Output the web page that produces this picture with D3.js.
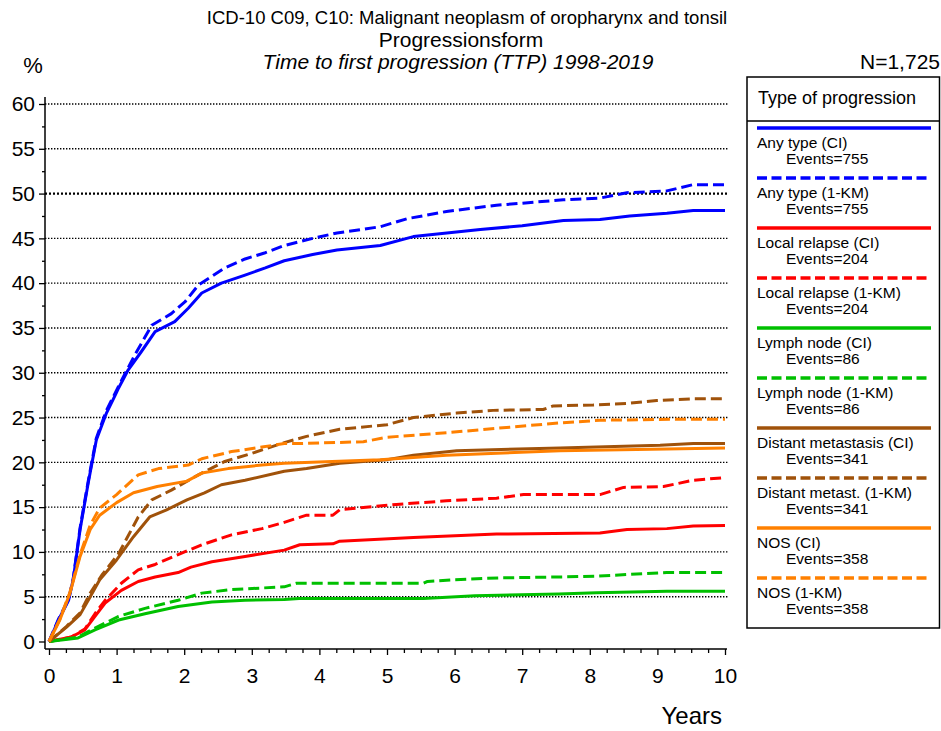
<!DOCTYPE html>
<html>
<head>
<meta charset="utf-8">
<script src="https://cdn.jsdelivr.net/npm/d3@7"></script>
<style>
  body { margin: 0; background: #fff; }
  svg { display: block; font-family: "Liberation Sans", Arial, sans-serif; }
</style>
</head>
<body>
<div id="chart"></div>
<script>
// Curves: [years, percent]
const anyCI = [[0,0],[0.14,2.4],[0.29,4.6],[0.36,7.0],[0.46,12.5],[0.58,17.7],[0.7,22.5],[0.85,25.5],[0.98,27.5],[1.03,28.3],[1.17,30.3],[1.37,32.4],[1.57,34.6],[1.86,35.7],[2.06,37.2],[2.26,38.9],[2.55,40.0],[2.9,40.9],[3.2,41.7],[3.48,42.5],[3.9,43.2],[4.26,43.7],[4.9,44.2],[5.39,45.2],[6.38,46.0],[7.0,46.4],[7.61,47.0],[8.15,47.1],[8.59,47.5],[9.14,47.8],[9.53,48.1],[10,48.1]];
const anyKM = [[0,0],[0.14,2.5],[0.29,4.7],[0.36,7.1],[0.46,12.7],[0.58,17.9],[0.7,22.7],[0.85,25.8],[1.05,28.8],[1.27,32.0],[1.52,35.3],[1.81,36.6],[2.01,37.9],[2.21,39.8],[2.6,41.7],[2.9,42.7],[3.2,43.4],[3.48,44.2],[3.9,45.0],[4.26,45.6],[4.9,46.3],[5.3,47.2],[5.88,48.0],[6.62,48.7],[7.61,49.3],[8.15,49.5],[8.55,50.1],[9.14,50.3],[9.53,51.0],[10,51.0]];
const localCI = [[0,0],[0.33,0.5],[0.53,1.3],[0.68,2.8],[0.83,4.3],[1.07,5.7],[1.32,6.7],[1.57,7.2],[1.91,7.7],[2.1,8.3],[2.41,8.9],[2.9,9.5],[3.48,10.2],[3.71,10.8],[4.2,10.9],[4.3,11.2],[5.39,11.6],[6.62,12.0],[8.15,12.1],[8.55,12.5],[9.14,12.6],[9.53,12.9],[10,12.95]];
const localKM = [[0,0],[0.33,0.5],[0.53,1.4],[0.68,3.1],[0.83,4.6],[1.07,6.5],[1.32,8.0],[1.57,8.6],[1.91,9.7],[2.26,10.8],[2.7,11.9],[3.15,12.6],[3.48,13.3],[3.81,14.1],[4.2,14.1],[4.3,14.7],[5.14,15.3],[5.88,15.7],[6.62,16.0],[7.02,16.4],[8.15,16.4],[8.5,17.2],[9.09,17.3],[9.53,18.0],[10,18.3]];
const lymphCI = [[0,0],[0.43,0.4],[0.68,1.3],[1.03,2.4],[1.42,3.1],[1.91,3.9],[2.41,4.4],[2.9,4.6],[3.48,4.7],[3.7,4.8],[5.54,4.8],[6.3,5.1],[7.54,5.3],[8.1,5.45],[9.14,5.6],[10,5.6]];
const lymphKM = [[0,0],[0.43,0.5],[0.68,1.5],[1.03,2.8],[1.42,3.7],[1.91,4.6],[2.26,5.4],[2.7,5.8],[3.48,6.1],[3.66,6.5],[5.54,6.5],[5.6,6.7],[6.0,6.9],[6.65,7.1],[7.54,7.2],[8.1,7.3],[9.14,7.7],[10,7.7]];
const distCI = [[0,0],[0.26,1.6],[0.46,3.0],[0.61,5.0],[0.75,6.9],[1.0,9.1],[1.25,11.7],[1.49,13.9],[1.74,14.7],[2.04,15.8],[2.3,16.6],[2.55,17.5],[2.9,18.0],[3.48,19.0],[3.81,19.3],[4.3,19.9],[5.0,20.3],[5.39,20.8],[6.03,21.3],[7.56,21.6],[9.04,21.9],[9.53,22.1],[10,22.1]];
const distKM = [[0,0],[0.26,1.7],[0.46,3.2],[0.61,5.4],[0.78,7.4],[1.03,9.8],[1.32,13.9],[1.52,15.8],[1.81,16.9],[2.21,18.6],[2.6,20.1],[3.0,21.0],[3.48,22.2],[3.81,22.9],[4.3,23.7],[5.0,24.2],[5.39,25.0],[6.03,25.5],[6.57,25.8],[7.31,25.9],[7.46,26.3],[8.05,26.4],[8.59,26.6],[8.99,26.9],[9.53,27.1],[10,27.1]];
const nosCI = [[0,0],[0.16,2.4],[0.31,5.4],[0.46,9.5],[0.61,12.5],[0.75,14.1],[1.0,15.5],[1.25,16.6],[1.6,17.3],[2.04,17.9],[2.26,18.8],[2.65,19.3],[3.15,19.7],[3.48,19.9],[4.9,20.3],[5.88,20.8],[7.56,21.3],[9.14,21.5],[10,21.6]];
const nosKM = [[0,0],[0.16,2.5],[0.31,5.5],[0.46,9.7],[0.61,13.0],[0.75,14.9],[1.0,16.4],[1.32,18.6],[1.62,19.3],[2.06,19.7],[2.26,20.4],[2.7,21.2],[3.15,21.7],[3.48,22.1],[3.71,22.1],[4.65,22.3],[5.0,22.8],[5.88,23.3],[6.62,23.8],[7.56,24.4],[8.15,24.7],[9.19,24.8],[10,24.8]];

const seriesNames = ["Any type (CI)", "Any type (1-KM)", "Local relapse (CI)", "Local relapse (1-KM)",
  "Lymph node (CI)", "Lymph node (1-KM)", "Distant metastasis (CI)", "Distant metast. (1-KM)", "NOS (CI)", "NOS (1-KM)"];
const seriesEvents = [755, 755, 204, 204, 86, 86, 341, 341, 358, 358];
const seriesData = [anyCI, anyKM, localCI, localKM, lymphCI, lymphKM, distCI, distKM, nosCI, nosKM];
const seriesColors = ["#0000ff", "#0000ff", "#ff0000", "#ff0000", "#00c000", "#00c000", "#a0520a", "#a0520a", "#ff8000", "#ff8000"];
const seriesDashed = [false, true, false, true, false, true, false, true, false, true];

const xTicks = d3.range(0, 11, 1);
const yTicks = d3.range(0, 61, 5);

const series = seriesNames.map((name, i) => ({
  name: name,
  events: seriesEvents[i],
  values: seriesData[i],
  color: seriesColors[i],
  dashed: seriesDashed[i]
}));

const svg = d3.select("#chart")
  .append("svg")
  .attr("width", 941)
  .attr("height", 731);

// Scales
const x = d3.scaleLinear().domain([0, 10]).range([49, 725]);
const y = d3.scaleLinear().domain([0, 60]).range([641.5, 104]);

// Titles
svg.append("text").attr("x", 467).attr("y", 24).attr("text-anchor", "middle")
  .style("font-size", "18.5px").text("ICD-10 C09, C10: Malignant neoplasm of oropharynx and tonsil");
svg.append("text").attr("x", 461).attr("y", 47).attr("text-anchor", "middle")
  .style("font-size", "21px").text("Progressionsform");
svg.append("text").attr("x", 458).attr("y", 69).attr("text-anchor", "middle")
  .style("font-size", "21px").style("font-style", "italic").text("Time to first progression (TTP) 1998-2019");
svg.append("text").attr("x", 940).attr("y", 69).attr("text-anchor", "end")
  .style("font-size", "21px").text("N=1,725");
svg.append("text").attr("x", 33).attr("y", 73).attr("text-anchor", "middle")
  .style("font-size", "22px").text("%");

// Dotted gridlines (50% drawn heavier)
svg.append("g")
  .selectAll("line")
  .data(yTicks.filter((d) => d > 0))
  .enter()
  .append("line")
  .attr("x1", 45)
  .attr("x2", 728)
  .attr("y1", (d) => y(d))
  .attr("y2", (d) => y(d))
  .attr("stroke", "#000")
  .attr("stroke-width", (d) => (d === 50 ? 2.2 : 1.4))
  .attr("stroke-dasharray", (d) => (d === 50 ? "2,2" : "1.4,1.6"));

// Y axis
const yAxisG = svg.append("g").attr("transform", "translate(45,0)");
yAxisG.call(d3.axisLeft(y).tickValues(yTicks).tickSize(6).tickPadding(4))
  .call((g) => g.select(".domain").remove());
yAxisG.append("g")
  .call(d3.axisLeft(y).tickValues(d3.range(2.5, 60, 5)).tickSize(3).tickFormat(""))
  .call((g) => g.select(".domain").remove());
yAxisG.append("line").attr("y1", 97).attr("y2", 649).attr("stroke", "#000").attr("stroke-width", 1.5);

// X axis
const xAxisG = svg.append("g").attr("transform", "translate(0,649)");
xAxisG.call(d3.axisBottom(x).tickValues(xTicks).tickSize(6).tickPadding(13).tickFormat(d3.format("d")))
  .call((g) => g.select(".domain").remove());
xAxisG.append("g")
  .call(d3.axisBottom(x).tickValues(d3.range(0, 10.01, 0.25).filter((d) => d % 1 !== 0)).tickSize(4).tickFormat(""))
  .call((g) => g.select(".domain").remove());
xAxisG.append("line").attr("x1", 45).attr("x2", 727).attr("stroke", "#000").attr("stroke-width", 1.5);

svg.selectAll(".tick line").attr("stroke", "#000").attr("stroke-width", 1.3);
svg.selectAll(".tick text").style("font-size", "21px").attr("fill", "#000")
  .style("font-family", "'Liberation Sans', Arial, sans-serif");

svg.append("text").attr("x", 722).attr("y", 724).attr("text-anchor", "end")
  .style("font-size", "24px").text("Years");

// Curves
const line = d3.line()
  .x((d) => x(d[0]))
  .y((d) => y(d[1]))
  .curve(d3.curveLinear);

svg.append("g")
  .selectAll("path")
  .data(series)
  .enter()
  .append("path")
  .attr("d", (d) => line(d.values))
  .attr("fill", "none")
  .attr("stroke", (d) => d.color)
  .attr("stroke-width", 3)
  .attr("stroke-linejoin", "round")
  .attr("stroke-dasharray", (d) => (d.dashed ? "11,5" : null));

// Legend
const legend = svg.append("g");
legend.append("rect")
  .attr("x", 747).attr("y", 77).attr("width", 192.5).attr("height", 551)
  .attr("fill", "#fff").attr("stroke", "#000").attr("stroke-width", 1.5);
legend.append("line")
  .attr("x1", 747).attr("x2", 939.5).attr("y1", 121).attr("y2", 121)
  .attr("stroke", "#000").attr("stroke-width", 1.5);
legend.append("text").attr("x", 758).attr("y", 104)
  .style("font-size", "18px").text("Type of progression");

const items = legend.selectAll("g.item")
  .data(series)
  .enter()
  .append("g")
  .attr("class", "item")
  .attr("transform", (d, i) => `translate(0,${128 + i * 50})`);

items.append("line")
  .attr("x1", 757).attr("x2", 931)
  .attr("stroke", (d) => d.color)
  .attr("stroke-width", 3.5)
  .attr("stroke-dasharray", (d) => (d.dashed ? "10,4.5" : null));
items.append("text").attr("x", 757).attr("y", 20)
  .style("font-size", "15.5px").text((d) => d.name);
items.append("text").attr("x", 786).attr("y", 36)
  .style("font-size", "15.5px").text((d) => "Events=" + d.events);
</script>
</body>
</html>
